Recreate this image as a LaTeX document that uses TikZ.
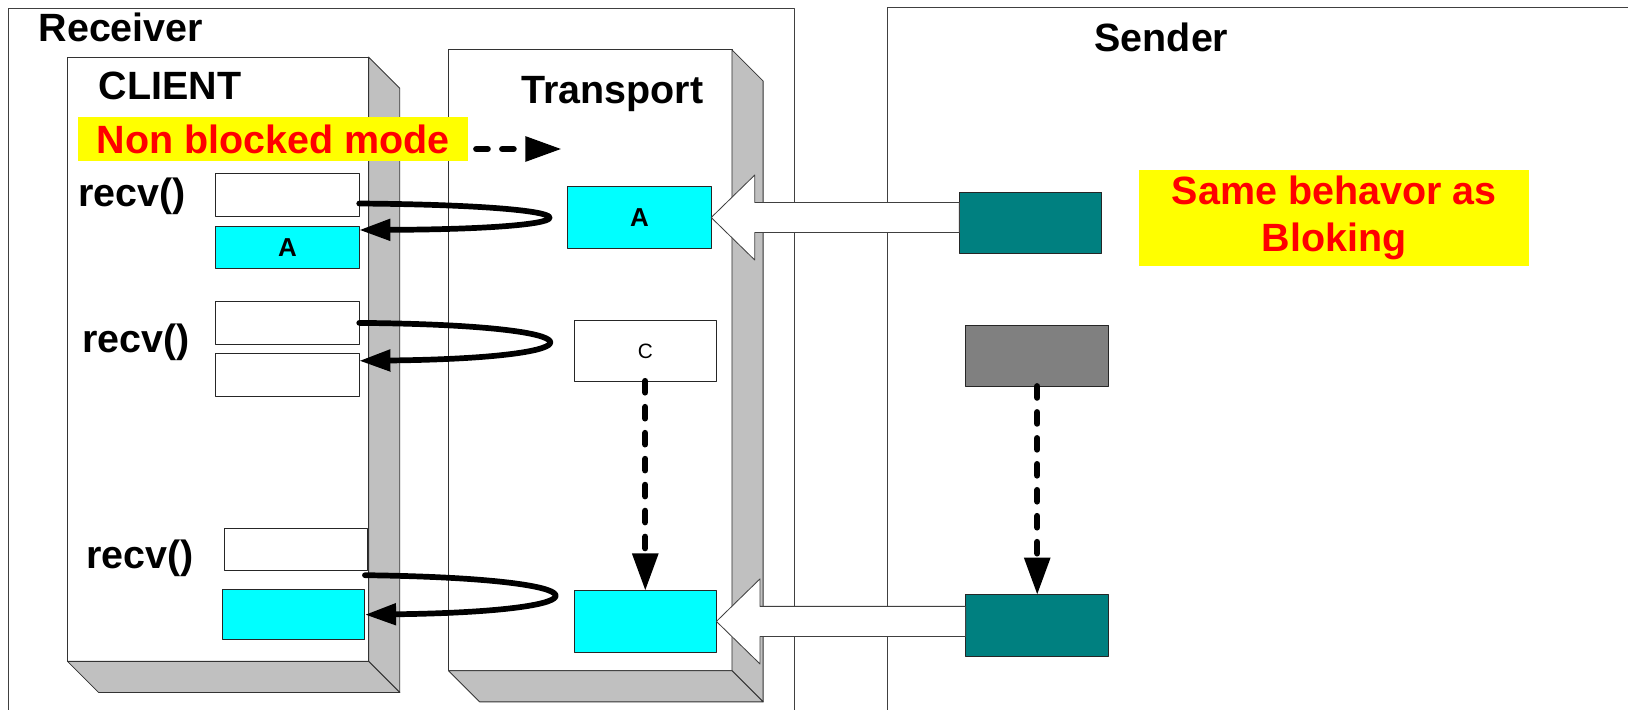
\documentclass[tikz,border=0pt]{standalone}
\usepackage{fontspec}
\setmainfont{Liberation Sans}
\usetikzlibrary{arrows.meta,calc}
\definecolor{bufcyan}{HTML}{00FFFF}
\definecolor{bufteal}{HTML}{008080}
\definecolor{bufgray}{HTML}{808080}
\definecolor{sidegray}{HTML}{C0C0C0}
\definecolor{notered}{HTML}{FF0000}
\definecolor{noteyellow}{HTML}{FFFF00}
\definecolor{framegray}{HTML}{404040}

\begin{document}
\begin{tikzpicture}[x=1pt,y=-1pt,line join=round,
  face/.style={draw=black!80,line width=0.8pt,fill=white,inner sep=0pt,outer sep=0pt},
  side/.style={draw=black!80,line width=0.8pt,fill=sidegray},
  buf/.style={draw=black!85,line width=0.9pt,inner sep=0pt,outer sep=0pt,minimum width=138pt,minimum height=41pt,font=\fontsize{25}{29}\selectfont\bfseries},
  title/.style={font=\fontsize{38}{45}\selectfont\bfseries,inner sep=0pt},
  note/.style={fill=noteyellow,text=notered,inner sep=0pt,align=center,font=\fontsize{38}{45}\selectfont\bfseries},
  loop/.style={line width=5.5pt,line cap=round,-{Triangle[length=30pt,width=20pt]}},
  flow/.style={line width=6pt,line cap=round,dash pattern=on 11pt off 14pt,-{Triangle[length=36pt,width=24pt]}},
  hollow/.style={draw=black!75,line width=0.8pt,fill=white}]
  \useasboundingbox (0,0) rectangle (1568,683);

  \draw[framegray,line width=1.2pt] (8,700) -- (8,8) -- (765,8) -- (765,700);
  \draw[framegray,line width=1.2pt] (855,700) -- (855,7) -- (1580,7);

  \node[face,minimum width=290pt,minimum height=582pt] (client) at (210,346) {};
  \filldraw[side] (client.north east) -- ++(30,30) -- ++(0,582) -- (client.south east) -- cycle;
  \filldraw[side] (client.south west) -- (client.south east) -- ++(30,30) -- ++(-290,0) -- cycle;
  \node[face,minimum width=273pt,minimum height=598pt] (transport) at (568.5,347) {};
  \filldraw[side] (transport.north east) -- ++(30,30) -- ++(0,598) -- (transport.south east) -- cycle;
  \filldraw[side] (transport.south west) -- (transport.south east) -- ++(30,30) -- ++(-273,0) -- cycle;

  \node[title,anchor=base west] (receiver) at (37,40) {Receiver};
  \node[title,anchor=base west] (sender) at (1054,50) {Sender};
  \node[title,anchor=base west] (clientlbl) at (95,96) {CLIENT};
  \node[title,anchor=base west] (translbl) at (502,100) {Transport};
  \node[note,minimum width=375pt,minimum height=42pt] (nonblock) at (263,134) {Non blocked mode};
  \node[note,minimum width=376pt,minimum height=92pt] (same) at (1285,210) {Same behavor as\\Bloking};
  \node[title] (recv1) at (127,189) {recv()};
  \node[title] (recv2) at (131,330) {recv()};
  \node[title] (recv3) at (135,538) {recv()};

  \node[buf,fill=white] (w1) at (277,188) {};
  \node[buf,fill=bufcyan] (a1) at (277,238.5) {A};
  \node[buf,fill=white] (w2) at (277,311) {};
  \node[buf,fill=white,minimum height=42pt] (w2b) at (277,361) {};
  \node[buf,fill=white,minimum width=137pt] (w3) at (285,529) {};
  \node[buf,fill=bufcyan,minimum width=137pt,minimum height=48pt] (a3) at (283,592) {};
  \node[buf,fill=bufcyan,minimum height=59pt] (ta) at (616,209.5) {A};
  \node[buf,fill=white,minimum width=137pt,minimum height=58pt,font=\fontsize{20}{24}\selectfont] (tc) at (621.5,338) {C};
  \node[buf,fill=bufcyan,minimum width=137pt,minimum height=59pt] (tb) at (621.5,598.5) {};
  \node[buf,fill=bufteal,minimum width=137pt,minimum height=59pt] (s1) at (992.5,214.5) {};
  \node[buf,fill=bufgray,minimum height=59pt] (s2) at (999,342.5) {};
  \node[buf,fill=bufteal,minimum height=59pt] (s3) at (999,602.5) {};

  \filldraw[hollow] (ta.east) -- ++(42,-41) -- ++(0,26.5) -- ($(s1.west |- ta.east)+(0,-14.5)$)
    -- ++(0,29) -- ($(ta.east)+(42,14.5)$) -- ++(0,26.5) -- cycle;
  \filldraw[hollow] (tb.east) -- ++(42,-41) -- ++(0,26.5) -- ($(s3.west |- tb.east)+(0,-14.5)$)
    -- ++(0,29) -- ($(tb.east)+(42,14.5)$) -- ++(0,26.5) -- cycle;

  \draw[loop] ([yshift=-8pt]w1.east) .. controls +(240,2) and +(239,-1) .. ([yshift=17pt]a1.east);
  \draw[loop] (w2.east) .. controls +(242,2) and +(239,-2.5) .. ([yshift=13.5pt]w2b.east);
  \draw[loop] ([xshift=-2pt,yshift=-4.5pt]w3.south east) .. controls +(240,3) and +(240,-3) .. (a3.east);

  \coordinate (modeend) at (541,143.5);
  \draw[flow,-{Triangle[length=35pt,width=23pt]}] ([xshift=8pt,yshift=-9.5pt]nonblock.east) -- (modeend);
  \draw[flow] (tc.south) -- (tb.north);
  \draw[flow] (s2.south) -- (s3.north);
\end{tikzpicture}
\end{document}
